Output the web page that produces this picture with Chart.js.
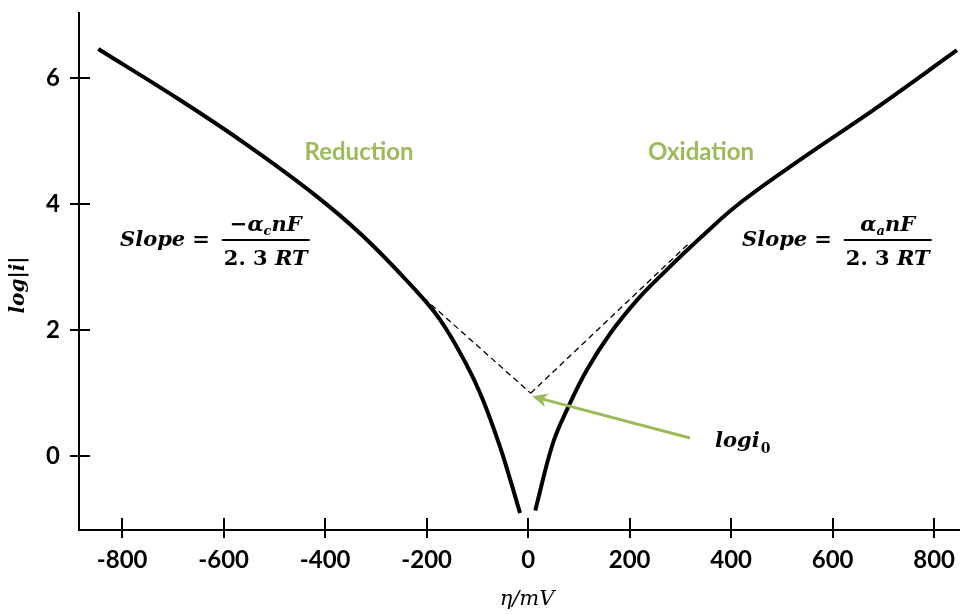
<!DOCTYPE html>
<html><head><meta charset="utf-8">
<script src="https://cdn.jsdelivr.net/npm/chart.js@4.4.0/dist/chart.umd.min.js"></script>
<style>html,body{margin:0;padding:0;background:#fff}#wrap{width:960px;height:614px}</style>
</head><body><div id="wrap"><canvas id="c" width="960" height="614"></canvas></div>
<script>
// Cathodic (reduction) branch: overpotential (mV) and log|i|
const reductionEta = [-847, -686, -554, -424, -325, -227, -173, -120, -89, -55, -35, -16];
const reductionLog = [6.46, 5.65, 4.94, 4.17, 3.49, 2.68, 2.16, 1.43, 0.89, 0.14, -0.38, -0.90];
// Anodic (oxidation) branch
const oxidationEta = [14, 49, 79, 116, 162, 215, 266, 339, 418, 550, 680, 845];
const oxidationLog = [-0.86, 0.21, 0.78, 1.37, 1.95, 2.48, 2.90, 3.46, 4.02, 4.78, 5.49, 6.44];
// Tafel extrapolations meeting at log i0
const cathodicTangentEta = [-235, 5];
const cathodicTangentLog = [2.72, 1.0];
const anodicTangentEta = [5, 320];
const anodicTangentLog = [1.0, 3.4];
// Axis ticks
const xTicks = [-800, -600, -400, -200, 0, 200, 400, 600, 800];
const yTicks = [0, 2, 4, 6];

const pts = (xs, ys) => xs.map((x, i) => ({x: x, y: ys[i]}));
const GREEN = '#9bbb59';
const MATH = "'DejaVu Serif', serif";

const annotations = {
  id: 'annotations',
  afterDraw(chart) {
    const ctx = chart.ctx;
    const xs = chart.scales.x, ys = chart.scales.y;
    const a = chart.chartArea;
    ctx.save();
    // inner parts of tick marks
    ctx.strokeStyle = '#000'; ctx.lineWidth = 2;
    xTicks.forEach(v => { const px = Math.round(xs.getPixelForValue(v)); ctx.beginPath(); ctx.moveTo(px, a.bottom); ctx.lineTo(px, a.bottom - 12); ctx.stroke(); });
    yTicks.forEach(v => { const py = Math.round(ys.getPixelForValue(v)); ctx.beginPath(); ctx.moveTo(a.left, py); ctx.lineTo(a.left + 11, py); ctx.stroke(); });

    // axis titles
    ctx.fillStyle = '#000';
    ctx.textAlign = 'center'; ctx.textBaseline = 'middle';
    ctx.font = "italic 21px " + MATH;
    ctx.fillText('\u03b7/mV', 527, 600);
    ctx.save();
    ctx.translate(19, 285); ctx.rotate(-Math.PI / 2);
    ctx.font = "italic bold 20px " + MATH;
    ctx.fillText('log|i|', 0, 0);
    ctx.restore();

    // region labels
    ctx.fillStyle = GREEN;
    ctx.font = "bold 24px Lato, 'Open Sans', sans-serif";
    ctx.fillText('Reduction', 359, 152);
    ctx.fillText('Oxidation', 701, 152);

    // arrow to log i0
    const tipX = xs.getPixelForValue(8), tipY = ys.getPixelForValue(0.95);
    const tailX = 690, tailY = 438;
    ctx.strokeStyle = GREEN; ctx.fillStyle = GREEN; ctx.lineWidth = 3;
    const ang = Math.atan2(tipY - tailY, tipX - tailX);
    ctx.beginPath(); ctx.moveTo(tailX, tailY); ctx.lineTo(tipX - 8 * Math.cos(ang), tipY - 8 * Math.sin(ang)); ctx.stroke();
    ctx.beginPath();
    ctx.moveTo(tipX, tipY);
    ctx.lineTo(tipX - 15 * Math.cos(ang) + 7 * Math.sin(ang), tipY - 15 * Math.sin(ang) - 7 * Math.cos(ang));
    ctx.lineTo(tipX - 11 * Math.cos(ang), tipY - 11 * Math.sin(ang));
    ctx.lineTo(tipX - 15 * Math.cos(ang) - 7 * Math.sin(ang), tipY - 15 * Math.sin(ang) + 7 * Math.cos(ang));
    ctx.closePath(); ctx.fill();

    // math text
    ctx.fillStyle = '#000';
    ctx.textBaseline = 'alphabetic';
    ctx.textAlign = 'left';
    const big = "italic bold 21px " + MATH;
    const up = "bold 21px " + MATH;
    const sub = "italic bold 13px " + MATH;
    // log i0
    ctx.font = big; ctx.fillText('logi', 715, 447);
    let w = ctx.measureText('logi').width;
    ctx.font = "bold 14px " + MATH; ctx.fillText('0', 715 + w + 1, 453);

    function slope(x, numParts, denom) {
      const bar = 240;
      ctx.font = big;
      ctx.fillText('Slope', x, bar + 6);
      const sw = ctx.measureText('Slope').width;
      ctx.font = up;
      ctx.fillText('=', x + sw + 7, bar + 6);
      const fx = x + sw + 7 + ctx.measureText('=').width + 12;
      let nw = 0;
      numParts.forEach(p => { ctx.font = p[1] === 'sub' ? sub : (p[1] === 'up' ? up : big); nw += ctx.measureText(p[0]).width; });
      ctx.font = up; let dw = ctx.measureText(denom[0]).width;
      ctx.font = big; dw += ctx.measureText(denom[1]).width;
      const fw = Math.max(nw, dw) + 4;
      let cx = fx + (fw - nw) / 2;
      numParts.forEach(p => {
        ctx.font = p[1] === 'sub' ? sub : (p[1] === 'up' ? up : big);
        ctx.fillText(p[0], cx, p[1] === 'sub' ? bar - 5 : bar - 9);
        cx += ctx.measureText(p[0]).width;
      });
      ctx.fillRect(fx, bar - 1, fw, 2);
      let dx = fx + (fw - dw) / 2;
      ctx.font = up; ctx.fillText(denom[0], dx, bar + 25);
      dx += ctx.measureText(denom[0]).width;
      ctx.font = big; ctx.fillText(denom[1], dx, bar + 25);
    }
    slope(120, [['\u2212', 'up'], ['\u03b1', 'n'], ['c', 'sub'], ['nF', 'n']], ['2. 3 ', 'RT']);
    slope(742, [['\u03b1', 'n'], ['a', 'sub'], ['nF', 'n']], ['2. 3 ', 'RT']);
    ctx.restore();
  }
};

const tickFont = {family: "Lato, 'Open Sans', sans-serif", size: 24, weight: 'bold'};
const noPad = s => { s.paddingTop = 0; s.paddingBottom = 0; s.paddingLeft = 0; s.paddingRight = 0; };

new Chart(document.getElementById('c'), {
  type: 'scatter',
  data: {
    datasets: [
      {data: pts(reductionEta, reductionLog), showLine: true, borderColor: '#000', borderWidth: 4, pointRadius: 0, tension: 0.4, fill: false},
      {data: pts(oxidationEta, oxidationLog), showLine: true, borderColor: '#000', borderWidth: 4, pointRadius: 0, tension: 0.4, fill: false},
      {data: pts(cathodicTangentEta, cathodicTangentLog), showLine: true, borderColor: '#000', borderWidth: 1.3, borderDash: [6, 4], pointRadius: 0, fill: false},
      {data: pts(anodicTangentEta, anodicTangentLog), showLine: true, borderColor: '#000', borderWidth: 1.3, borderDash: [6, 4], pointRadius: 0, fill: false}
    ]
  },
  options: {
    responsive: false, animation: false, devicePixelRatio: 1,
    layout: {padding: {top: 13, right: 0, left: 0, bottom: 0}},
    plugins: {legend: {display: false}, tooltip: {enabled: false}},
    scales: {
      x: {
        type: 'linear', min: -885, max: 851,
        afterBuildTicks: s => { s.ticks = xTicks.map(v => ({value: v})); },
        afterFit: s => { s.height = 84; noPad(s); },
        border: {display: true, color: '#000', width: 2},
        grid: {drawOnChartArea: false, drawTicks: true, tickLength: 8, color: '#000', lineWidth: 2},
        ticks: {color: '#000', font: tickFont, padding: 8, maxRotation: 0, callback: v => String(v)},
        title: {display: false}
      },
      y: {
        type: 'linear', min: -1.17, max: 7.03,
        afterBuildTicks: s => { s.ticks = yTicks.map(v => ({value: v})); },
        afterFit: s => { s.width = 79; noPad(s); },
        border: {display: true, color: '#000', width: 2},
        grid: {drawOnChartArea: false, drawTicks: true, tickLength: 9, color: '#000', lineWidth: 2},
        ticks: {color: '#000', font: tickFont, padding: 10, callback: v => String(v)},
        title: {display: false}
      }
    }
  },
  plugins: [annotations]
});
</script>
</body></html>
